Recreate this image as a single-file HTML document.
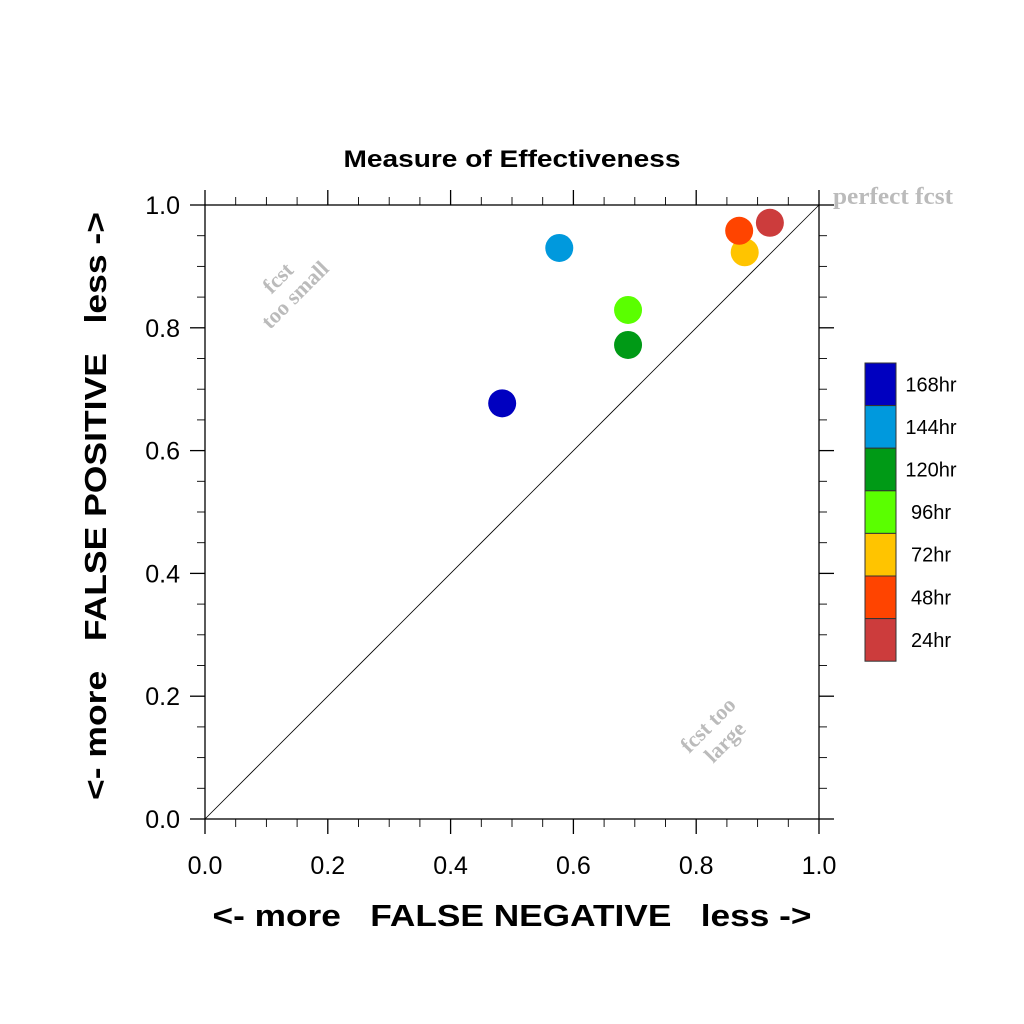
<!DOCTYPE html>
<html><head><meta charset="utf-8">
<style>
html,body{margin:0;padding:0;background:#fff;}
svg{display:block;font-family:"Liberation Sans",sans-serif;}
</style></head>
<body>
<svg id="chart" width="1024" height="1024" viewBox="0 0 1024 1024" xmlns="http://www.w3.org/2000/svg">
<rect width="1024" height="1024" fill="#fff"/>
<text x="512" y="167" text-anchor="middle" font-size="24" font-weight="bold" textLength="337" lengthAdjust="spacingAndGlyphs">Measure of Effectiveness</text>
<g id="axes"></g>
<line x1="205" y1="819" x2="819" y2="205" stroke="#000" stroke-width="0.8"/>
<g id="points"></g>
<text x="833" y="204" font-family="Liberation Serif,serif" font-weight="bold" font-size="24" fill="#bbb" textLength="120" lengthAdjust="spacingAndGlyphs">perfect fcst</text>
<g transform="translate(288,288) rotate(-45)" font-family="Liberation Serif,serif" font-weight="bold" font-size="22" fill="#bbb" text-anchor="middle">
<text x="0" y="-7">fcst</text><text x="0" y="17">too small</text></g>
<g transform="translate(718,735) rotate(-45)" font-family="Liberation Serif,serif" font-weight="bold" font-size="22" fill="#bbb" text-anchor="middle">
<text x="0" y="-7">fcst too</text><text x="0" y="17">large</text></g>
<text x="512" y="926" text-anchor="middle" font-size="31" font-weight="bold" xml:space="preserve" textLength="599" lengthAdjust="spacingAndGlyphs">&lt;- more   FALSE NEGATIVE   less -&gt;</text>
<text transform="translate(106,506) rotate(-90)" text-anchor="middle" font-size="31" font-weight="bold" xml:space="preserve" textLength="588" lengthAdjust="spacingAndGlyphs">&lt;- more   FALSE POSITIVE   less -&gt;</text>
<g id="legend"></g>
</svg>
<script>
const labels = ["168hr","144hr","120hr","96hr","72hr","48hr","24hr"];
const colors = ["#0000c0","#0099dd","#009a16","#5aff00","#ffc400","#ff4400","#cc3c3c"];
const xValues = [0.484,0.577,0.689,0.689,0.879,0.870,0.920];
const yValues = [0.677,0.930,0.772,0.829,0.923,0.958,0.971];
const tickValues = [0,0.2,0.4,0.6,0.8,1.0];
const tickLabels = ["0.0","0.2","0.4","0.6","0.8","1.0"];

const X0=205,X1=819,Y0=819,Y1=205;
const sx=v=>X0+(X1-X0)*v, sy=v=>Y0-(Y0-Y1)*v;
const NS="http://www.w3.org/2000/svg";
function mk(tag,attrs,parent){const e=document.createElementNS(NS,tag);for(const k in attrs)e.setAttribute(k,attrs[k]);parent.appendChild(e);return e;}
const axes=document.getElementById('axes');
const frame=mk('rect',{x:X0,y:Y1,width:X1-X0,height:Y0-Y1,fill:'none',stroke:'#000','stroke-width':1.3},axes);


for(let i=0;i<=20;i++){
  const v=i*0.05; const major=(i%4===0); const L=major?15:8;
  const x=sx(v), y=sy(v);
  const segs=[[x,Y0,x,Y0+L],[x,Y1,x,Y1-L],[X0,y,X0-L,y],[X1,y,X1+L,y]];
  segs.forEach(s=>{const t=mk('line',{x1:s[0],y1:s[1],x2:s[2],y2:s[3],stroke:'#000','stroke-width':major?1.3:0.9},axes);
    
    });
}
tickValues.forEach((v,i)=>{
  const tx=mk('text',{x:sx(v),y:874,'text-anchor':'middle','font-size':25},axes);
  tx.textContent=tickLabels[i];
  
  
  const ty=mk('text',{x:180,y:sy(v)+9,'text-anchor':'end','font-size':25},axes);
  ty.textContent=tickLabels[i];
  
  
});
const pts=document.getElementById('points');
labels.forEach((l,i)=>{
  const c=mk('circle',{cx:sx(xValues[i]),cy:sy(yValues[i]),r:14,fill:colors[i]},pts);
  
  
});
const lg=document.getElementById('legend');
const LH=42.6;
labels.forEach((l,i)=>{
  const r=mk('rect',{x:865,y:363+i*LH,width:31,height:LH,fill:colors[i],stroke:'#333','stroke-width':1},lg);
  
  
  const t=mk('text',{x:931,y:363+i*LH+LH/2+7,'text-anchor':'middle','font-size':20},lg);
  t.textContent=l;
  
  
});
</script>
</body></html>
